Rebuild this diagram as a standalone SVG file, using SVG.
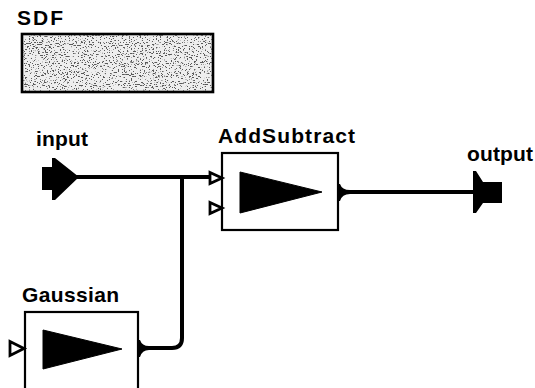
<svg xmlns="http://www.w3.org/2000/svg" width="535" height="388" viewBox="0 0 535 388">
  <style>
    .lbl { font-family: "Liberation Sans", Arial, sans-serif; font-weight: bold; font-size: 21px; fill: #000; }
    .box { fill: #fff; stroke: #000; stroke-width: 2.2; }
    .tri { fill: #000; stroke: #000; stroke-width: 1; stroke-linejoin: miter; }
    .inport { fill: #fff; stroke: #000; stroke-width: 2.8; stroke-linejoin: miter; }
    .blk { fill: #000; stroke: none; }
    .wire { fill: none; stroke: #000; stroke-width: 4; stroke-linejoin: round; }
  </style>
  <defs>
    <filter id="speckle" x="0" y="0" width="100%" height="100%" filterUnits="objectBoundingBox">
      <feTurbulence type="fractalNoise" baseFrequency="0.55 0.9" numOctaves="2" seed="7" result="n"/>
      <feColorMatrix in="n" type="matrix" values="0 0 0 0 0.1  0 0 0 0 0.1  0 0 0 0 0.1  -16 0 0 0 6.6"/>
    </filter>
  </defs>
  <rect width="535" height="388" fill="#fff"/>

  <g id="SDF">
    <text class="lbl" x="17" y="25" textLength="46">SDF</text>
    <rect x="22" y="34" width="191" height="58" fill="#eeeeee" stroke="#000" stroke-width="2.6"/>
    <rect x="23.5" y="35.5" width="188" height="55" fill="#fff" filter="url(#speckle)"/>
  </g>

  <g id="connectors">
    <path class="wire" d="M76,177 H211"/>
    <path class="wire" d="M144,348 H172 Q182,348 182,338 V177"/>
    <path class="wire" d="M344,192 H474"/>
  </g>

  <g id="input">
    <text class="lbl" x="36" y="146" textLength="52">input</text>
    <polygon class="blk" points="42,167 52,167 52,158 55,158 79,177 55,200 52,200 52,190 42,190"/>
  </g>

  <g id="AddSubtract">
    <text class="lbl" x="218" y="143" textLength="137">AddSubtract</text>
    <rect class="box" x="222" y="153" width="116" height="77"/>
    <polygon class="tri" points="240,172 322,192 240,213"/>
    <polygon class="inport" points="210,172.5 222,178 210,183.5"/>
    <polygon class="inport" points="210,202.5 222,208 210,213.5"/>
    <path class="blk" d="M337,184 L340,184 Q342,190 350,190 L350,194 Q342,194 340,201 L337,201 Z"/>
  </g>

  <g id="output">
    <text class="lbl" x="467" y="161" textLength="66">output</text>
    <polygon class="blk" points="473,171 476,171 483,182 502,182 502,203 483,203 476,213 473,213"/>
  </g>

  <g id="Gaussian">
    <text class="lbl" x="22" y="302" textLength="97">Gaussian</text>
    <rect class="box" x="25" y="312" width="113" height="90"/>
    <polygon class="tri" points="43,330 122,349 43,369"/>
    <polygon class="inport" points="10,341.5 24,348.5 10,355.5"/>
    <path class="blk" d="M137,340 L140,340 Q142,346 149,346 L149,350 Q142,350 140,357 L137,357 Z"/>
  </g>
</svg>
